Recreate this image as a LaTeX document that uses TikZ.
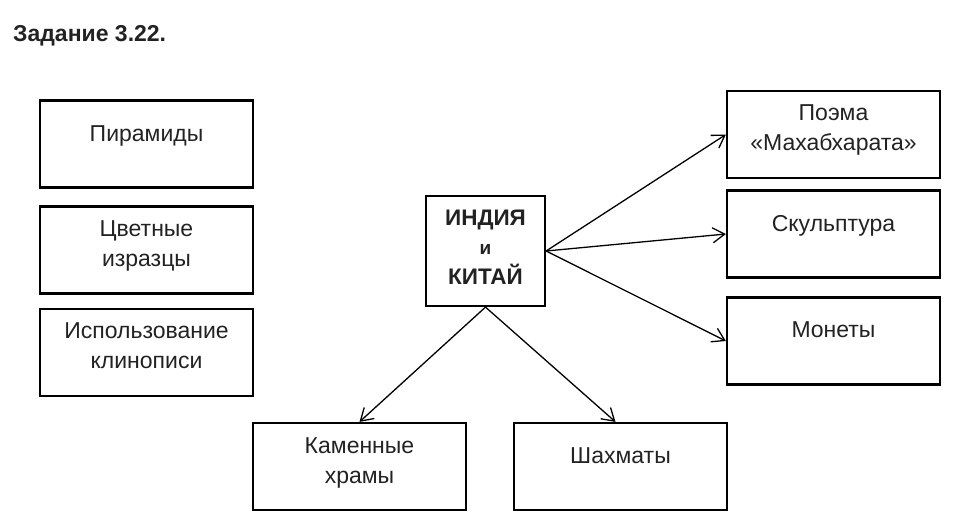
\documentclass[tikz,border=0pt]{standalone}
\usepackage{fontspec}
\setmainfont{Liberation Sans}
\usetikzlibrary{arrows.meta}
\definecolor{ink}{HTML}{222222}

\tikzset{
    box/.style={draw=black, line width=2.2pt, minimum width=213pt, minimum height=87pt,
        align=center, text=ink, font=\fontsize{23}{30}\selectfont, inner sep=0pt},
    oneline/.style={text height=17pt, text depth=#1},
    twoline/.style={text depth=6pt, text height=#1},
    link/.style={line width=1.3pt, -{Straight Barb[length=12pt,width=15pt,line width=1.3pt]}}
}

\begin{document}
\begin{tikzpicture}[x=1pt, y=-1pt]
    \useasboundingbox (0,0) rectangle (953,528);

    % Title
    \node[anchor=base west, inner sep=0pt, text=ink, font=\fontsize{23}{26}\selectfont\bfseries] (title) at (13,41) {Задание 3.22.};

    % Left column (not linked)
    \node[box, oneline=22pt] (pyr) at (146.5,144) {Пирамиды};
    \node[box, twoline=39pt] (tiles) at (146.5,250) {Цветные\\изразцы};
    \node[box, twoline=37pt] (cune) at (146.5,352.5) {Использование\\клинописи};

    % Centre
    \node[draw=black, line width=2.2pt, minimum width=119pt, minimum height=110pt, inner sep=0pt,
        align=center, text=ink, font=\fontsize{22.5}{29.5}\selectfont\bfseries,
        text depth=6pt, text height=72pt] (ic) at (485.5,251)
        {ИНДИЯ\\{\fontsize{19}{29.5}\selectfont и}\\КИТАЙ};

    % Right column
    \node[box, twoline=37pt] (poem) at (833.5,134.5) {Поэма\\«Махабхарата»};
    \node[box, oneline=22pt] (sculpt) at (833.5,234) {Скульптура};
    \node[box, oneline=24.5pt] (coins) at (833.5,341) {Монеты};

    % Bottom row
    \node[box, twoline=39pt] (temples) at (359.5,466.5) {Каменные\\храмы};
    \node[box, oneline=23.5pt] (chess) at (620.5,466.5) {Шахматы};

    % Arrows from the centre
    \draw[link] (ic.east) -- (poem.west);
    \draw[link] (ic.east) -- (sculpt.west);
    \draw[link] (ic.east) -- (coins.west);
    \draw[link] (ic.south) -- (temples.north);
    \draw[link] (ic.south) -- ([xshift=-5pt]chess.north);
\end{tikzpicture}
\end{document}
